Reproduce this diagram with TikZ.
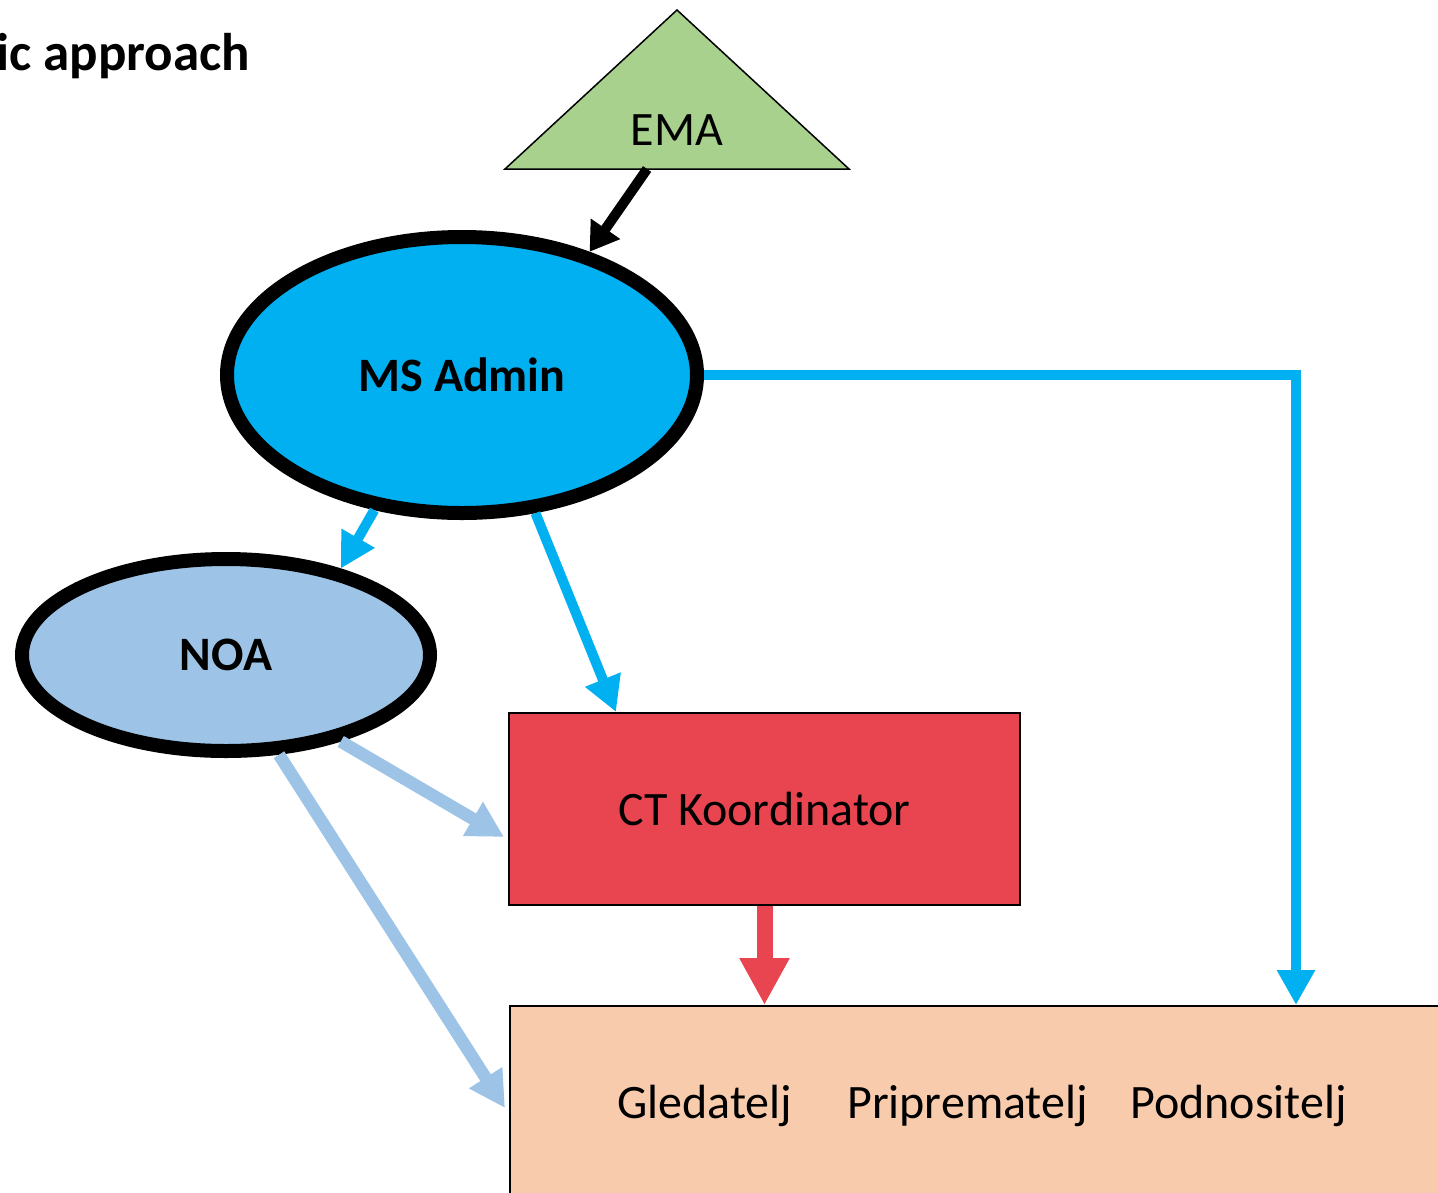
\documentclass[tikz,border=0pt]{standalone}
\usepackage{fontspec}
\setmainfont{Carlito}
\usetikzlibrary{shapes.geometric,arrows.meta,calc}
\definecolor{emagreen}{HTML}{A9D18E}
\definecolor{msblue}{HTML}{00B0F0}
\definecolor{noablue}{HTML}{9DC3E6}
\definecolor{ctred}{HTML}{E84550}
\definecolor{peach}{HTML}{F8CBAD}
\begin{document}
\begin{tikzpicture}[x=1pt,y=-1pt,
  txt/.style={font=\fontsize{48}{57}\selectfont},
  btxt/.style={font=\fontsize{48}{57}\selectfont\bfseries},
  oval/.style={ellipse, draw=black, line width=14pt, inner sep=0pt},
  box/.style={rectangle, draw=black, line width=2pt, inner sep=0pt},
  blackarr/.style={draw=black, line width=10pt, -{Triangle[length=28pt,width=34pt]}},
  bluearr/.style={draw=msblue, line width=10pt, -{Triangle[length=35pt,width=36pt]}},
  lightarr/.style={draw=noablue, line width=12.5pt, -{Triangle[length=36pt,width=37pt]}},
  redarr/.style={draw=ctred, line width=16pt, -{Triangle[length=47pt,width=47pt]}}]
\useasboundingbox (0,0) rectangle (1438,1192);
\clip (0,0) rectangle (1438,1192);

% title
\node[anchor=base west, inner sep=0pt, font=\fontsize{53}{62}\selectfont\bfseries] (title) at (-4,70) {ic approach};

% EMA triangle
\draw[line width=1.5pt, fill=emagreen] (677,10) coordinate (emaT) -- (849,169) coordinate (emaR) -- (505,169) coordinate (emaL) -- cycle;
\node[txt, inner sep=0pt] (ema) at (677,130) {EMA};

% ellipses
\node[oval, btxt, fill=msblue, minimum width=470pt, minimum height=276pt] (ms) at (462,375) {MS Admin};
\node[oval, btxt, fill=noablue, minimum width=408pt, minimum height=192pt] (noa) at (226,655) {NOA};

% boxes
\node[box, txt, fill=ctred, minimum width=511pt, minimum height=192pt] (ct) at (764.5,809) {CT Koordinator};
\node[box, fill=peach, minimum width=1000pt, minimum height=400pt, anchor=north west] (bot) at (509,1005) {};
\node[txt, anchor=base west, inner sep=0pt] (gl) at (617,1118) {Gledatelj};
\node[txt, anchor=base west, inner sep=0pt] (pr) at (847,1118) {Priprematelj};
\node[txt, anchor=base west, inner sep=0pt] (po) at (1130,1118) {Podnositelj};

% connectors
\draw[blackarr] ($(emaL)!0.413!(emaR)$) -- (ms.44);
\draw[bluearr] (ms.237) -- (noa.37.6);
\draw[bluearr] (ms.-62) -- ([xshift=108pt]ct.north west);
\draw[bluearr] (ms.east) -| ([xshift=787pt]bot.north west);
\draw[lightarr] (noa.-37) -- ([shift={(-4pt,-28pt)}]ct.west);
\draw[lightarr] (noa.-62) -- ([shift={(-4pt,-103pt)}]bot.north west);
\draw[redarr] (ct.south) -- (ct.south |- bot.north);
\end{tikzpicture}
\end{document}
